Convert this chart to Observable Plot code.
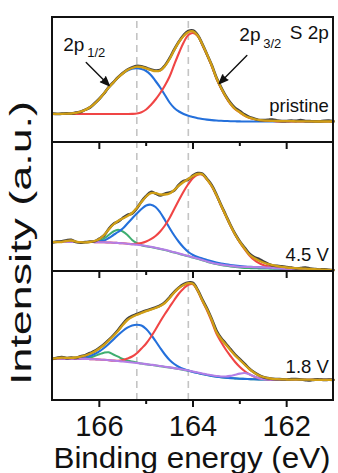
<!DOCTYPE html>
<html>
<head>
<meta charset="utf-8">
<script src="https://cdn.jsdelivr.net/npm/d3@7"></script>
<script src="https://cdn.jsdelivr.net/npm/@observablehq/plot@0.6"></script>
<style>
  html, body { margin: 0; padding: 0; background: #fff; }
  #chart svg { display: block; overflow: visible; }
</style>
</head>
<body>
<div id="chart"></div>
<script>
// S 2p core-level spectra: pristine, charged to 4.5 V, discharged to 1.8 V.
// Binding energy grid (eV) shared by every trace.
const energy = [167.0, 166.9, 166.8, 166.7, 166.6, 166.5, 166.4, 166.3, 166.2, 166.1,
  166.0, 165.9, 165.8, 165.7, 165.6, 165.5, 165.4, 165.3, 165.2, 165.1,
  165.0, 164.9, 164.8, 164.7, 164.6, 164.5, 164.4, 164.3, 164.2, 164.1,
  164.0, 163.9, 163.8, 163.7, 163.6, 163.5, 163.4, 163.3, 163.2, 163.1,
  163.0, 162.9, 162.8, 162.7, 162.6, 162.5, 162.4, 162.3, 162.2, 162.1,
  162.0, 161.9, 161.8, 161.7, 161.6, 161.5, 161.4, 161.3, 161.2, 161.1,
  161.0];

const panels = ["pristine", "4.5 V", "1.8 V"];
const majorTicks = [166, 164, 162];
const minorTicks = [165, 163];
const peakPositions = [165.2, 164.1];
const xTitle = "Binding energy (eV)";
const yTitle = "Intensity (a.u.)";

// ---- pristine ----
const pristineMeasured = [28.9, 28.5, 28.8, 29.1, 28.9, 29.8, 30.6, 32.9, 35.0, 39.2,
  43.8, 49.0, 55.4, 60.3, 65.2, 69.4, 72.8, 75.0, 76.7, 76.2,
  74.6, 73.0, 71.9, 72.5, 77.0, 84.2, 93.0, 101.0, 107.4, 111.4,
  112.0, 107.5, 98.4, 88.0, 77.4, 65.0, 55.2, 46.5, 39.6, 34.5,
  31.4, 28.0, 25.6, 24.0, 22.5, 22.4, 22.6, 23.0, 21.8, 21.3,
  21.5, 21.9, 21.6, 22.3, 21.4, 21.3, 21.2, 21.0, 21.6, 21.8,
  21.1];
const pristineEnvelope = [28.7, 28.7, 28.7, 28.8, 29.0, 29.6, 30.8, 32.6, 35.2, 38.8,
  43.5, 49.2, 55.0, 60.0, 65.0, 69.0, 72.5, 74.5, 75.8, 75.5,
  74.2, 72.5, 71.3, 72.0, 76.5, 83.5, 92.5, 100.5, 106.5, 110.5,
  111.2, 107.0, 98.0, 88.0, 77.0, 64.5, 54.5, 46.0, 38.7, 33.5,
  30.2, 27.0, 24.8, 23.5, 22.6, 22.1, 21.8, 21.6, 21.5, 21.4,
  21.3, 21.3, 21.2, 21.2, 21.1, 21.1, 21.0, 21.0, 21.0, 21.0,
  21.0];
const pristineBlue = [28.7, 28.7, 28.7, 28.8, 29.0, 29.6, 30.8, 32.6, 35.2, 38.8,
  43.5, 49.2, 55.0, 60.0, 65.0, 69.0, 72.0, 73.8, 74.3, 73.5,
  71.5, 67.5, 61.5, 55.0, 47.5, 40.0, 34.5, 31.0, 28.5, 26.8,
  25.5, 24.3, 23.5, 22.9, 22.4, 22.0, 21.7, 21.5, 21.3, 21.2,
  21.1, 21.0, 21.0, 21.0, 21.0, 21.0, 21.0, 21.0, 21.0, 21.0,
  21.0, 21.0, 21.0, 21.0, 21.0, 21.0, 21.0, 21.0, 21.0, 21.0,
  21.0];
const pristineRed = [28.5, 28.5, 28.5, 28.5, 28.5, 28.5, 28.5, 28.5, 28.5, 28.5,
  28.5, 28.5, 28.5, 28.5, 28.5, 28.5, 28.5, 28.6, 29.0, 30.3,
  33.0, 37.5, 43.0, 49.5, 57.0, 66.0, 78.0, 89.5, 100.0, 107.5,
  109.5, 106.5, 97.5, 87.5, 76.5, 64.0, 54.0, 45.5, 38.3, 33.2,
  30.0, 26.8, 24.7, 23.4, 22.5, 22.0, 21.7, 21.5, 21.0, 21.0,
  21.0, 21.0, 21.0, 21.0, 21.0, 21.0, 21.0, 21.0, 21.0, 21.0,
  21.0];

// ---- 4.5 V ----
const charged45Measured = [29.0, 29.8, 30.2, 31.2, 31.6, 29.5, 28.8, 29.4, 29.8, 30.2,
  32.8, 36.0, 42.5, 47.5, 50.0, 53.5, 56.5, 58.0, 63.0, 70.0,
  75.5, 79.5, 78.0, 76.0, 77.8, 79.0, 81.0, 86.8, 90.5, 92.0,
  96.0, 98.3, 97.8, 92.5, 86.3, 77.0, 66.5, 56.5, 46.5, 37.5,
  30.0, 24.0, 18.0, 14.5, 12.8, 10.0, 7.8, 6.0, 5.6, 5.2,
  4.5, 3.8, 3.0, 3.4, 3.9, 3.0, 2.4, 2.0, 2.1, 1.6,
  1.3];
const charged45Envelope = [29.5, 29.3, 29.5, 30.5, 31.0, 30.0, 29.3, 29.2, 29.5, 30.5,
  32.5, 36.5, 42.0, 47.0, 50.5, 53.0, 55.5, 58.5, 63.5, 69.5,
  75.0, 78.3, 78.3, 77.0, 77.0, 78.0, 81.5, 86.0, 89.5, 92.5,
  95.5, 97.5, 97.3, 92.0, 85.5, 76.5, 66.0, 56.0, 46.0, 37.0,
  29.5, 23.0, 17.0, 13.5, 11.0, 9.0, 7.5, 6.3, 5.3, 4.6,
  4.0, 3.6, 3.3, 3.0, 2.8, 2.5, 2.3, 2.0, 1.8, 1.5,
  1.2];
const charged45Purple = [29.5, 29.5, 29.5, 29.5, 29.5, 29.5, 29.5, 29.5, 29.5, 29.4,
  29.3, 29.2, 29.0, 28.8, 28.5, 28.2, 27.8, 27.3, 26.8, 26.2,
  25.5, 24.7, 23.8, 22.8, 21.7, 20.5, 19.3, 18.0, 16.7, 15.4,
  14.2, 13.0, 11.6, 10.0, 8.8, 7.8, 6.9, 6.2, 5.6, 5.1,
  4.8, 4.6, 4.5, 4.4, 4.3, 4.1, 3.9, 3.6, 3.3, 3.0,
  2.8, 2.6, 2.4, 2.2, 2.0, 1.9, 1.8, 1.6, 1.5, 1.3,
  1.2];
const charged45Green = [29.5, 29.5, 29.5, 29.5, 29.5, 29.5, 29.5, 29.5, 29.5, 29.5,
  30.5, 33.0, 36.5, 40.0, 41.7, 40.0, 36.5, 31.5, 28.3, 26.3,
  25.2, 24.4, 23.5, 22.5, 21.4, 20.2, 19.0, 17.7, 16.4, 15.1,
  13.9, 12.7, 11.3, 9.7, 8.5, 7.4, 6.5, 5.7, 5.0, 4.4,
  3.9, 3.6, 3.4, 3.2, 3.1, 3.0, 2.9, 2.8, 2.7, 2.6,
  2.5, 2.4, 2.3, 2.1, 1.9, 1.8, 1.7, 1.5, 1.4, 1.3,
  1.2];
const charged45Blue = [29.5, 29.5, 29.5, 29.5, 29.5, 29.5, 29.5, 29.5, 29.5, 29.5,
  30.0, 31.0, 33.5, 36.5, 39.5, 43.0, 48.0, 53.0, 58.0, 62.5,
  66.0, 66.8, 64.5, 59.0, 51.5, 43.5, 36.0, 29.5, 24.0, 19.5,
  16.5, 14.5, 13.0, 11.5, 10.2, 9.0, 8.0, 7.2, 6.5, 5.9,
  5.4, 5.0, 4.7, 4.4, 4.2, 4.0, 3.8, 3.5, 3.2, 3.0,
  2.8, 2.6, 2.4, 2.2, 2.0, 1.9, 1.8, 1.6, 1.5, 1.3,
  1.2];
const charged45Red = [29.5, 29.5, 29.5, 29.5, 29.5, 29.5, 29.5, 29.5, 29.5, 29.4,
  29.3, 29.2, 29.0, 28.8, 28.5, 28.2, 27.8, 27.4, 27.8, 28.5,
  30.0, 32.3, 35.5, 40.0, 46.0, 53.5, 62.5, 71.5, 80.0, 87.5,
  93.5, 96.8, 96.8, 91.8, 85.2, 76.2, 65.7, 55.7, 45.7, 36.7,
  29.0, 22.3, 16.3, 11.8, 8.7, 6.6, 5.3, 4.5, 3.9, 3.4,
  3.0, 2.7, 2.4, 2.2, 2.0, 1.9, 1.8, 1.6, 1.5, 1.3,
  1.2];

// ---- 1.8 V ----
const discharged18Measured = [41.5, 42.8, 43.5, 42.3, 42.9, 42.6, 44.2, 45.3, 47.4, 49.5,
  52.6, 56.2, 60.5, 65.2, 70.5, 76.5, 81.6, 84.5, 86.4, 88.3,
  90.0, 91.5, 93.1, 95.0, 98.2, 103.2, 108.6, 113.0, 116.3, 118.0,
  117.6, 110.5, 101.0, 92.0, 81.5, 70.0, 62.5, 57.0, 51.3, 45.8,
  41.3, 36.8, 32.0, 28.4, 25.5, 23.4, 22.3, 21.6, 21.4, 21.2,
  21.0, 21.3, 21.5, 21.0, 20.4, 20.0, 20.9, 21.0, 20.6, 20.8,
  20.7];
const discharged18Envelope = [41.8, 42.3, 42.8, 42.6, 42.6, 43.0, 43.8, 45.0, 46.8, 49.0,
  52.0, 55.5, 60.0, 64.5, 69.5, 75.5, 80.5, 83.5, 85.7, 87.5,
  89.3, 90.8, 92.5, 94.5, 97.5, 102.5, 108.0, 112.5, 115.5, 117.3,
  116.8, 110.0, 100.0, 91.0, 80.5, 68.5, 61.5, 56.0, 50.3, 45.0,
  40.5, 36.0, 31.5, 28.0, 25.3, 23.5, 22.4, 21.7, 21.3, 21.1,
  21.0, 20.9, 20.9, 20.8, 20.8, 20.8, 20.7, 20.7, 20.7, 20.7,
  20.7];
const discharged18Purple = [41.8, 41.8, 41.8, 41.8, 41.8, 41.8, 41.7, 41.6, 41.4, 41.2,
  41.0, 40.7, 40.3, 39.9, 39.5, 39.0, 38.5, 38.0, 37.5, 37.0,
  36.4, 35.8, 35.2, 34.5, 33.8, 33.1, 32.4, 31.6, 30.8, 30.0,
  29.0, 28.0, 27.0, 26.0, 25.2, 24.5, 24.0, 24.0, 24.6, 25.8,
  26.9, 27.5, 26.2, 24.2, 22.3, 21.4, 21.0, 20.9, 20.8, 20.8,
  20.7, 20.7, 20.7, 20.7, 20.7, 20.7, 20.7, 20.7, 20.7, 20.7,
  20.7];
const discharged18Green = [41.8, 41.8, 41.8, 41.8, 41.8, 41.8, 41.8, 42.0, 43.0, 44.5,
  46.3, 47.8, 48.3, 46.0, 43.8, 41.5, 40.0, 39.0, 38.0, 36.9,
  36.2, 35.6, 35.0, 34.3, 33.6, 32.9, 32.2, 31.4, 30.6, 29.8,
  28.6, 27.5, 26.5, 25.5, 24.6, 23.9, 23.3, 22.8, 22.4, 22.1,
  21.8, 21.6, 21.4, 21.2, 21.1, 21.0, 20.9, 20.8, 20.7, 20.7,
  20.7, 20.7, 20.7, 20.7, 20.7, 20.7, 20.7, 20.7, 20.7, 20.7,
  20.7];
const discharged18Blue = [41.8, 41.8, 41.8, 41.8, 41.8, 41.9, 42.2, 43.0, 44.5, 46.5,
  49.2, 52.5, 56.5, 61.0, 65.5, 69.5, 72.8, 75.0, 75.8, 75.0,
  71.5, 66.0, 59.5, 52.5, 46.0, 40.5, 36.5, 33.5, 31.5, 30.0,
  28.6, 27.5, 26.5, 25.5, 24.6, 23.9, 23.3, 22.8, 22.4, 22.1,
  21.8, 21.6, 21.4, 21.2, 21.1, 21.0, 20.9, 20.8, 20.7, 20.7,
  20.7, 20.7, 20.7, 20.7, 20.7, 20.7, 20.7, 20.7, 20.7, 20.7,
  20.7];
const discharged18Red = [41.8, 41.8, 41.8, 41.8, 41.8, 41.8, 41.7, 41.6, 41.4, 41.2,
  41.0, 40.7, 40.3, 39.9, 39.8, 40.5, 42.0, 44.0, 47.3, 52.0,
  57.0, 63.5, 71.0, 79.0, 86.5, 93.5, 100.5, 107.0, 112.0, 115.8,
  116.3, 109.5, 99.5, 90.0, 79.0, 67.0, 58.5, 51.0, 44.5, 38.5,
  33.5, 29.5, 26.3, 24.0, 22.5, 21.6, 21.1, 20.9, 20.8, 20.7,
  20.7, 20.7, 20.7, 20.7, 20.7, 20.7, 20.7, 20.7, 20.7, 20.7,
  20.7];

// ---- layout of the three stacked panels (intensity units == px) ----
const panelBottom = {"pristine": 258, "4.5 V": 129, "1.8 V": 0};
const panelTop = {"pristine": 383, "4.5 V": 258, "1.8 V": 129};

function trace(panel, values) {
  return values.map((v, i) => ({panel, E: energy[i], v: v + panelBottom[panel]}));
}

const green = [...trace("4.5 V", charged45Green), ...trace("1.8 V", discharged18Green)];
const blue = [...trace("pristine", pristineBlue), ...trace("4.5 V", charged45Blue), ...trace("1.8 V", discharged18Blue)];
const red = [...trace("pristine", pristineRed), ...trace("4.5 V", charged45Red), ...trace("1.8 V", discharged18Red)];
const purple = [...trace("4.5 V", charged45Purple), ...trace("1.8 V", discharged18Purple)];
const measured = [...trace("pristine", pristineMeasured), ...trace("4.5 V", charged45Measured), ...trace("1.8 V", discharged18Measured)];
const envelope = [...trace("pristine", pristineEnvelope), ...trace("4.5 V", charged45Envelope), ...trace("1.8 V", discharged18Envelope)];

const curve = (data, stroke, strokeWidth) => Plot.line(data, {
  x: "E", y: "v", z: "panel", stroke, strokeWidth,
  curve: "catmull-rom", strokeLinejoin: "round", strokeLinecap: "round"
});

// inward ticks along the top edge of the lower two panels
const innerTicks = [];
for (const p of ["4.5 V", "1.8 V"]) {
  for (const t of majorTicks) innerTicks.push({E: t, y1: panelTop[p], y2: panelTop[p] - 7});
  for (const t of minorTicks) innerTicks.push({E: t, y1: panelTop[p], y2: panelTop[p] - 4});
}
const outerTicks = [
  ...majorTicks.map(t => ({E: t, y1: 0, y2: -7})),
  ...minorTicks.map(t => ({E: t, y1: 0, y2: -4}))
];

// peak annotations of the pristine panel
const top1 = panelBottom["pristine"];
const annotArrows = [
  {x1: 166.28, y1: top1 + 80, x2: 165.79, y2: top1 + 57},
  {x1: 162.85, y1: top1 + 87, x2: 163.44, y2: top1 + 59}
];
const conditionY = {"pristine": 31, "4.5 V": 11, "1.8 V": 28};

const font = "'Liberation Sans', Arial, Helvetica, sans-serif";

const chart = Plot.plot({
  width: 338,
  height: 473,
  marginLeft: 52,
  marginRight: 5,
  marginTop: 17,
  marginBottom: 73,
  style: {fontFamily: font, fontSize: "29px", color: "#111", background: "#fff", overflow: "visible"},
  x: {domain: [167, 161], ticks: majorTicks, tickSize: 0, tickPadding: 15, tickFormat: d => String(d), label: null},
  y: {domain: [0, 383], axis: null},
  marks: [
    Plot.ruleX(peakPositions, {y1: 0, y2: 383, stroke: "#c4c4c4", strokeWidth: 1.6, strokeDasharray: "7,5"}),
    curve(green, "#3fae70", 2),
    curve(blue, "#2470db", 2.1),
    curve(red, "#f04545", 2.1),
    curve(purple, "#b47ee6", 2.1),
    curve(measured, "#3f3f3f", 2.7),
    curve(envelope, "#d19f16", 2.3),
    Plot.rect(panels, {x1: 167, x2: 161, y1: d => panelBottom[d], y2: d => panelTop[d], fill: "none", stroke: "#111", strokeWidth: 2}),
    Plot.ruleX(innerTicks, {x: "E", y1: "y1", y2: "y2", stroke: "#111", strokeWidth: 2}),
    Plot.ruleX(outerTicks, {x: "E", y1: "y1", y2: "y2", stroke: "#111", strokeWidth: 2}),
    Plot.arrow(annotArrows, {x1: "x1", y1: "y1", x2: "x2", y2: "y2", stroke: "#111", fill: "#111", strokeWidth: 1.4, headLength: 10, headAngle: 45, strokeLinejoin: "miter"}),
    // condition labels
    Plot.text(panels, {x: 161.1, y: d => panelBottom[d] + conditionY[d], text: d => d, textAnchor: "end", lineAnchor: "bottom", fontSize: 18.5, fill: "#111"}),
    // core level and spin-orbit components
    Plot.text(["S 2p"], {x: 161.1, y: top1 + 103.5, text: d => d, textAnchor: "end", lineAnchor: "bottom", fontSize: 19, fill: "#111"}),
    Plot.text(["2p"], {x: 166.77, y: top1 + 92, text: d => d, textAnchor: "start", lineAnchor: "bottom", fontSize: 19, fill: "#111"}),
    Plot.text(["1/2"], {x: 166.26, y: top1 + 86, text: d => d, textAnchor: "start", lineAnchor: "bottom", fontSize: 13, fill: "#111"}),
    Plot.text(["2p"], {x: 163.01, y: top1 + 102, text: d => d, textAnchor: "start", lineAnchor: "bottom", fontSize: 19, fill: "#111"}),
    Plot.text(["3/2"], {x: 162.50, y: top1 + 95, text: d => d, textAnchor: "start", lineAnchor: "bottom", fontSize: 13, fill: "#111"}),
    // axis titles
    Plot.text([yTitle], {frameAnchor: "left", textAnchor: "middle", lineAnchor: "middle", rotate: -90, dx: -31, dy: 34, text: d => d, fontSize: 29, fill: "#111"}),
    Plot.text([xTitle], {frameAnchor: "bottom", textAnchor: "middle", dx: -1, dy: 67, lineAnchor: "bottom", text: d => d, fontSize: 29, fill: "#111"})
  ]
});

// the axis titles are set in a wide face: spread them over their full run
for (const t of chart.querySelectorAll("text")) {
  if (t.textContent === yTitle) {
    t.setAttribute("textLength", 284);
    t.setAttribute("lengthAdjust", "spacingAndGlyphs");
  } else if (t.textContent === xTitle) {
    t.setAttribute("textLength", 277);
    t.setAttribute("lengthAdjust", "spacingAndGlyphs");
  }
}

document.getElementById("chart").append(chart);
</script>
</body>
</html>
